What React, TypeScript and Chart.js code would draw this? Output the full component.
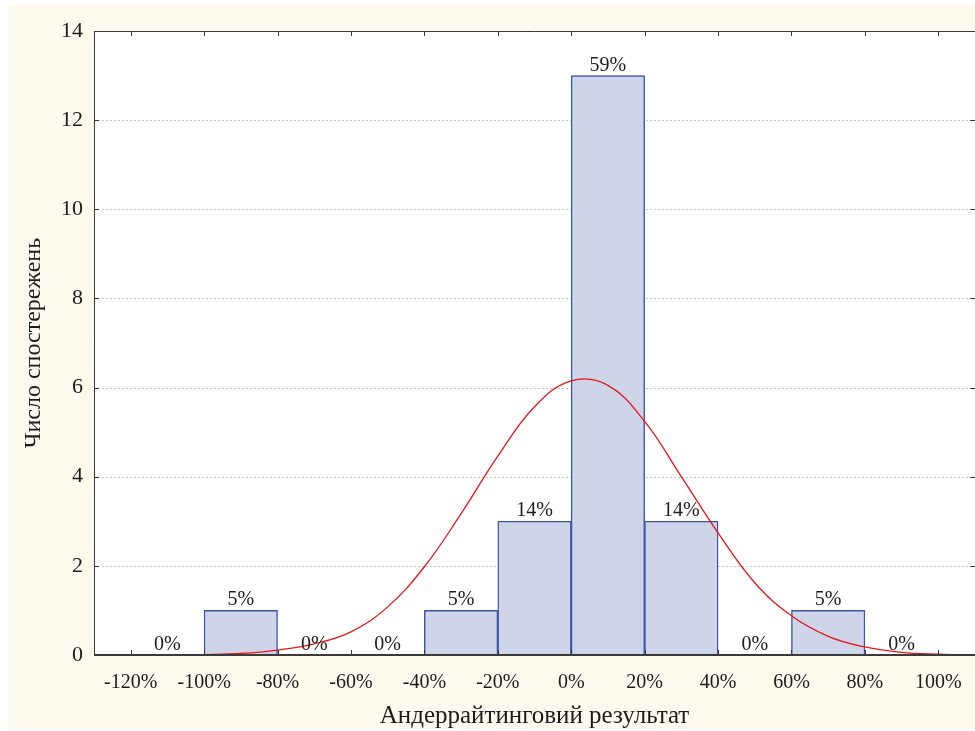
import React, { useEffect, useRef } from "react";
import { Chart, registerables } from "chart.js";

Chart.register(...registerables);

// Histogram bins (start of each 20% bin)
const binStarts = [-120, -100, -80, -60, -40, -20, 0, 20, 40, 60, 80];
const binWidth = 20;
const counts = [0, 1, 0, 0, 1, 3, 13, 3, 0, 1, 0];
const pctLabels = ["0%", "5%", "0%", "0%", "5%", "14%", "59%", "14%", "0%", "5%", "0%"];

// Axis ticks
const xTicks = [-120, -100, -80, -60, -40, -20, 0, 20, 40, 60, 80, 100];
const yTicks = [0, 2, 4, 6, 8, 10, 12, 14];

// Fitted normal curve
const curveX = [-130, -120, -110, -100, -90, -80, -70, -60, -50, -40, -30, -20, -10, 0, 10, 20, 30, 40, 50, 60, 70, 80, 90, 100, 110];
const curveY = [0.0001, 0.0005, 0.002, 0.01, 0.035, 0.11, 0.25, 0.52, 1.08, 1.98, 3.17, 4.46, 5.57, 6.15, 6.05, 5.24, 4.0, 2.74, 1.62, 0.88, 0.42, 0.18, 0.06, 0.02, 0.005];

const xTitle = "Андеррайтинговий результат";
const yTitle = "Число спостережень";

const FONT = "'Liberation Serif', 'Times New Roman', serif";
const TEXT = "#1c1c1c";

export default function App() {
  const ref = useRef<HTMLCanvasElement | null>(null);

  useEffect(() => {
    const canvas = ref.current;
    if (!canvas) return;

    const barData = binStarts.map((s, i) => ({ x: s + binWidth / 2, y: counts[i] > 0 ? counts[i] : null }));
    const lineData = curveX.map((x, i) => ({ x, y: curveY[i] }));

    const decor = {
      id: "decor",
      beforeDraw(chart: any) {
        const { ctx, chartArea } = chart;
        ctx.save();
        ctx.fillStyle = "#ffffff";
        ctx.fillRect(0, 0, chart.width, chart.height);
        ctx.fillStyle = "#fdf9ef";
        ctx.fillRect(8, 5, chart.width - 8, 725);
        ctx.fillStyle = "#ffffff";
        ctx.fillRect(chartArea.left, chartArea.top, chartArea.right - chartArea.left, chartArea.bottom - chartArea.top);
        ctx.restore();
      },
      beforeDatasetsDraw(chart: any) {
        const { ctx, chartArea, scales } = chart;
        ctx.save();
        ctx.strokeStyle = "#c4c4c4";
        ctx.lineWidth = 1;
        ctx.setLineDash([2, 2]);
        yTicks.forEach((v) => {
          if (v === 0 || v === 14) return;
          const y = Math.round(scales.y.getPixelForValue(v)) + 0.5;
          ctx.beginPath();
          ctx.moveTo(chartArea.left, y);
          ctx.lineTo(chartArea.right, y);
          ctx.stroke();
        });
        ctx.restore();
      },
      afterDatasetsDraw(chart: any) {
        const { ctx, chartArea, scales } = chart;
        const { left, right, top, bottom } = chartArea;
        ctx.save();
        // frame
        ctx.strokeStyle = "#3a3a3a";
        ctx.lineWidth = 1;
        ctx.beginPath();
        ctx.moveTo(left + 0.5, bottom);
        ctx.lineTo(left + 0.5, top + 0.5);
        ctx.lineTo(right, top + 0.5);
        ctx.stroke();
        ctx.lineWidth = 2;
        ctx.beginPath();
        ctx.moveTo(left, bottom);
        ctx.lineTo(right, bottom);
        ctx.stroke();
        // inward ticks
        ctx.lineWidth = 1;
        ctx.beginPath();
        xTicks.forEach((v) => {
          const x = Math.round(scales.x.getPixelForValue(v)) + 0.5;
          ctx.moveTo(x, bottom);
          ctx.lineTo(x, bottom - 5);
          ctx.moveTo(x, top);
          ctx.lineTo(x, top + 5);
        });
        yTicks.forEach((v) => {
          const y = Math.round(scales.y.getPixelForValue(v)) + 0.5;
          ctx.moveTo(left, y);
          ctx.lineTo(left + 5, y);
          ctx.moveTo(right, y);
          ctx.lineTo(right - 5, y);
        });
        ctx.stroke();
        // bar percentage labels
        ctx.fillStyle = TEXT;
        ctx.font = `20px ${FONT}`;
        ctx.textAlign = "center";
        ctx.textBaseline = "alphabetic";
        binStarts.forEach((s, i) => {
          const x = scales.x.getPixelForValue(s + binWidth / 2);
          const y = scales.y.getPixelForValue(counts[i]) - 5;
          ctx.fillText(pctLabels[i], x, y);
        });
        ctx.restore();
      },
    };

    const chart = new Chart(canvas, {
      data: {
        datasets: [
          {
            type: "line",
            data: lineData,
            borderColor: "#e8141c",
            borderWidth: 1.3,
            pointRadius: 0,
            tension: 0.4,
            fill: false,
            order: 0,
          } as any,
          {
            type: "bar",
            data: barData,
            backgroundColor: "#cfd5e8",
            borderColor: "#3b53a8",
            borderWidth: 1.4,
            barPercentage: 1,
            categoryPercentage: 1,
            order: 1,
          } as any,
        ],
      },
      options: {
        responsive: false,
        animation: false,
        devicePixelRatio: 1,
        layout: { padding: { top: 31, right: 0, left: 0, bottom: 0 } },
        plugins: { legend: { display: false }, tooltip: { enabled: false } },
        scales: {
          x: {
            type: "linear",
            min: -130,
            max: 110,
            offset: false,
            afterBuildTicks: (scale: any) => {
              scale.ticks = xTicks.map((v) => ({ value: v }));
            },
            afterFit: (scale: any) => {
              scale.height = 76;
              scale.paddingLeft = 0;
              scale.paddingRight = 0;
            },
            grid: { display: false, drawTicks: false, offset: false },
            border: { display: false },
            ticks: {
              padding: 16,
              maxRotation: 0,
              autoSkip: false,
              color: TEXT,
              font: { family: FONT, size: 20 },
              callback: (v: any) => `${v}%`,
            },
            title: {
              display: true,
              text: xTitle,
              color: TEXT,
              font: { family: FONT, size: 25 },
              padding: { top: 0, bottom: 0 },
            },
          },
          y: {
            type: "linear",
            min: 0,
            max: 14,
            afterBuildTicks: (scale: any) => {
              scale.ticks = yTicks.map((v) => ({ value: v }));
            },
            afterFit: (scale: any) => {
              scale.width = 94;
              scale.paddingTop = 0;
              scale.paddingBottom = 0;
            },
            grid: { display: false, drawTicks: false },
            border: { display: false },
            ticks: {
              padding: 11,
              color: TEXT,
              font: { family: FONT, size: 22 },
            },
            title: {
              display: true,
              text: yTitle,
              color: TEXT,
              font: { family: FONT, size: 24 },
              padding: { top: 19, bottom: 0 },
            },
          },
        },
      } as any,
      plugins: [decor],
    });

    return () => chart.destroy();
  }, []);

  return (
    <div style={{ position: "absolute", left: 0, top: 0, width: 975, height: 731 }}>
      <canvas ref={ref} width={975} height={731} style={{ display: "block", width: 975, height: 731 }} />
    </div>
  );
}
